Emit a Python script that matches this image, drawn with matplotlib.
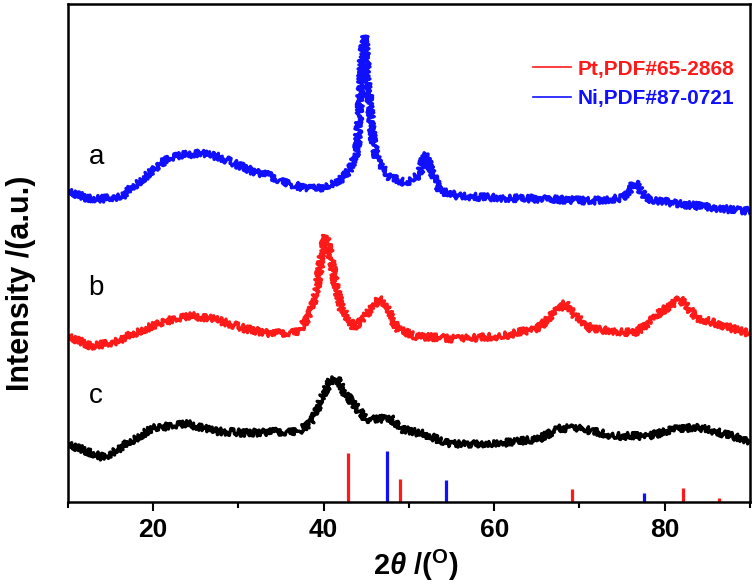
import matplotlib
matplotlib.use("Agg")
import matplotlib.pyplot as plt
from matplotlib.lines import Line2D

plt.rcParams['font.family'] = ['Liberation Sans', 'DejaVu Sans']
plt.rcParams['font.weight'] = 'bold'
plt.rcParams['axes.labelweight'] = 'bold'
plt.rcParams['mathtext.fontset'] = 'custom'
plt.rcParams['mathtext.rm'] = 'Liberation Sans:bold'
plt.rcParams['mathtext.it'] = 'Liberation Sans:italic:bold'
plt.rcParams['mathtext.bf'] = 'Liberation Sans:bold'

# curve a (blue)
two_theta_a = [10.0, 12.2, 13.8, 16.3, 17.3, 19.6, 21.6, 23.6, 25.5, 27.8, 29.4, 31.9,
               33.4, 36.1, 38.2, 40.2, 42.3, 43.3, 43.9, 44.2, 44.5, 44.8, 45.1, 45.4,
               45.8, 46.3, 47.5, 49.6, 51.2, 51.9, 52.7, 53.7, 55.8, 61.0, 66.2, 71.4,
               75.0, 75.8, 76.5, 77.3, 78.0, 81.8, 87.0, 90.0]
intensity_a = [311, 304, 303, 305, 313, 329, 343, 347, 349, 345, 339, 330,
               327, 318, 313, 315, 324, 336, 351, 391, 446, 466, 441, 396,
               361, 341, 326, 319, 327, 349, 329, 311, 306, 304, 303, 301,
               304, 311, 320, 309, 303, 298, 293, 291]

# curve b (red)
two_theta_b = [10.0, 12.7, 15.3, 18.4, 21.5, 24.6, 27.2, 30.9, 34.0, 37.1, 38.4, 39.2,
               39.8, 40.2, 40.8, 41.3, 42.1, 43.6, 44.9, 46.5, 47.5, 48.5, 50.6, 55.8,
               61.0, 65.2, 67.3, 68.3, 69.3, 71.4, 76.6, 79.7, 81.8, 83.8, 85.9, 90.0]
intensity_b = [166, 156, 159, 171, 181, 186, 183, 173, 168, 171, 188, 214,
               248, 266, 248, 221, 193, 174, 186, 204, 196, 174, 166, 163,
               166, 174, 191, 199, 188, 173, 169, 191, 203, 184, 179, 168]

# curve c (black)
two_theta_c = [10.0, 14.3, 17.4, 20.0, 24.1, 27.2, 30.9, 37.1, 38.7, 39.7, 40.8, 41.5,
               42.3, 43.9, 44.9, 46.5, 47.8, 49.1, 51.7, 54.8, 61.0, 65.2, 67.8, 70.4,
               74.0, 78.1, 81.8, 84.4, 87.0, 90.0]
intensity_c = [58, 44, 61, 74, 78, 71, 69, 71, 81, 104, 121, 124,
               111, 94, 83, 83, 84, 73, 68, 58, 59, 63, 74, 73,
               66, 66, 74, 74, 68, 61]

# reference sticks
pt_pos = [42.8, 48.9, 69.1, 82.2, 86.4]
pt_height = [49, 23, 13, 14, 4]
ni_pos = [47.4, 54.3, 77.6]
ni_height = [51, 22, 9]

curve_labels = ['a', 'b', 'c']
label_heights = [345, 214, 106]

fig = plt.figure(figsize=(7.56, 5.88), dpi=100)
ax = fig.add_axes([0.0899, 0.1463, 0.9021, 0.8469])

for xs, ys, col in [(two_theta_a, intensity_a, '#1010ff'),
                    (two_theta_b, intensity_b, '#ff1a1a'),
                    (two_theta_c, intensity_c, 'black')]:
    ln, = ax.plot(xs, ys, color=col, lw=2.4)
    ln.set_sketch_params(scale=3.5, length=1.5, randomness=3)

ax.vlines(pt_pos, 0, pt_height, colors='#ff1a1a', lw=2.3)
ax.vlines(ni_pos, 0, ni_height, colors='#1010ff', lw=2.3)

for lab, h in zip(curve_labels, label_heights):
    ax.text(13.3, h, lab, fontsize=20, fontweight='normal', ha='center', va='center')

handles = [Line2D([], [], color='#ff1a1a', lw=1.2), Line2D([], [], color='#1010ff', lw=1.2)]
ax.legend(handles, ['Pt,PDF#65-2868', 'Ni,PDF#87-0721'], loc='upper left',
          bbox_to_anchor=(0.682, 0.888), frameon=False, fontsize=15,
          handlelength=1.8, handletextpad=0.35, labelspacing=0.5,
          borderpad=0, borderaxespad=0, labelcolor='linecolor')

ax.set_xlim(10, 90)
ax.set_ylim(0, 498)
ax.set_xticks([20, 40, 60, 80])
ax.set_xticks([10, 30, 50, 70, 90], minor=True)
ax.set_yticks([])
ax.tick_params(axis='x', which='major', direction='out', length=6.5, width=1.5,
               labelsize=19, pad=5)
ax.tick_params(axis='x', which='minor', direction='out', length=4, width=1.5)
for s in ax.spines.values():
    s.set_linewidth(1.8)

ax.set_xlabel(r'2$\theta$ /($^{\rm O}$)', fontsize=21)
ax.xaxis.set_label_coords(0.51, -0.092)
ax.set_ylabel('Intensity /(a.u.)', fontsize=22)
ax.yaxis.set_label_coords(-0.047, 0.44)

fig.savefig('out.png', dpi=100)
